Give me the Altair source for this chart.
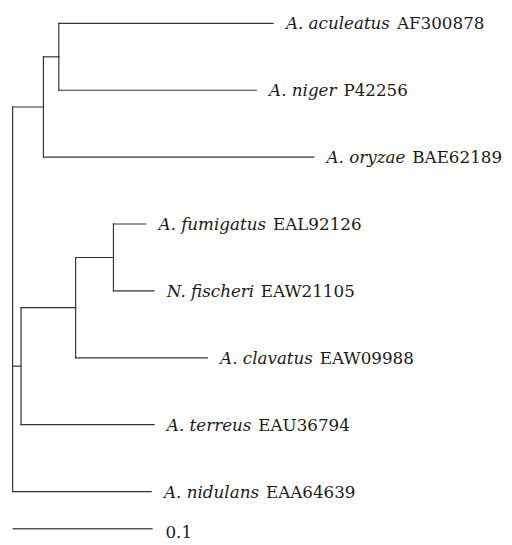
import altair as alt
import pandas as pd

# ---- data ----
leaf_species = ["A. aculeatus", "A. niger", "A. oryzae", "A. fumigatus",
                "N. fischeri", "A. clavatus", "A. terreus", "A. nidulans"]
leaf_accession = ["AF300878", "P42256", "BAE62189", "EAL92126",
                  "EAW21105", "EAW09988", "EAU36794", "EAA64639"]
# distance of each tip from the root (substitutions/site)
leaf_depth = [0.186, 0.174, 0.215, 0.095, 0.101, 0.139, 0.101, 0.099]

node_names = ["n1", "n2", "n3", "n4", "n5", "root"]
node_children = [[0, 1], ["n1", 2], [3, 4], ["n3", 5], ["n4", 6], ["n2", "n5", 7]]
node_depth = [0.033, 0.022, 0.072, 0.045, 0.006, 0.0]

scale_bar_length = 0.1
scale_bar_label = "0.1"

# ---- layout ----
W, H = 504, 537
X_DOM = [-0.0033, 0.3509]
Y_DOM = [-0.166, 7.735]
PX_PER_UNIT = W / (X_DOM[1] - X_DOM[0])
FONT = "DejaVu Serif"
FS = 17
LINE_COLOR = "#333333"
TEXT_COLOR = "#1a1a1a"
LABEL_DX = 13
GAP = 7
DY = 6.2

# approximate DejaVu Serif Italic advance widths (per em) for measuring species names
ITALIC_W = {" ": .318, ".": .318, "A": .722, "N": .771, "a": .596, "c": .560, "d": .640,
            "e": .592, "f": .370, "g": .640, "h": .644, "i": .320, "l": .320, "m": .948,
            "n": .644, "o": .602, "r": .478, "s": .513, "t": .402, "u": .644, "v": .565,
            "y": .565, "z": .527}


def text_w(s):
    return sum(ITALIC_W.get(c, .6) for c in s) * FS


# positions of every node
pos = {}
for i, d in enumerate(leaf_depth):
    pos[i] = (d, float(i))
for name, kids, d in zip(node_names, node_children, node_depth):
    ys = [pos[k][1] for k in kids]
    pos[name] = (d, (min(ys) + max(ys)) / 2)

segs = []
for name, kids in zip(node_names, node_children):
    d, _ = pos[name]
    ys = [pos[k][1] for k in kids]
    segs.append(dict(x=d, x2=d, y=min(ys), y2=max(ys)))
    for k in kids:
        kd, ky = pos[k]
        segs.append(dict(x=d, x2=kd, y=ky, y2=ky))
seg_df = pd.DataFrame(segs)

leaf_df = pd.DataFrame({
    "species": leaf_species,
    "acc": leaf_accession,
    "x": leaf_depth,
    "y": list(range(len(leaf_species))),
})
leaf_df["xacc"] = [d + (LABEL_DX + text_w(s) + GAP) / PX_PER_UNIT
                   for d, s in zip(leaf_depth, leaf_species)]

scale_df = pd.DataFrame({"x": [0.0], "x2": [scale_bar_length], "y": [7.555],
                         "label": [scale_bar_label]})

xs = alt.Scale(domain=X_DOM, nice=False, zero=False)
ys = alt.Scale(domain=Y_DOM, nice=False, zero=False, reverse=True)

branches = alt.Chart(seg_df).mark_rule(color=LINE_COLOR, strokeWidth=1.2, strokeCap="square").encode(
    x=alt.X("x:Q", scale=xs, axis=None),
    x2="x2:Q",
    y=alt.Y("y:Q", scale=ys, axis=None),
    y2="y2:Q",
)

species = alt.Chart(leaf_df).mark_text(
    align="left", baseline="alphabetic", dx=LABEL_DX, dy=DY,
    font=FONT, fontSize=FS, fontStyle="italic", color=TEXT_COLOR
).encode(
    x=alt.X("x:Q", scale=xs, axis=None),
    y=alt.Y("y:Q", scale=ys, axis=None),
    text="species:N",
)

acc = alt.Chart(leaf_df).mark_text(
    align="left", baseline="alphabetic", dy=DY,
    font=FONT, fontSize=FS, color=TEXT_COLOR
).encode(
    x=alt.X("xacc:Q", scale=xs, axis=None),
    y=alt.Y("y:Q", scale=ys, axis=None),
    text="acc:N",
)

bar = alt.Chart(scale_df).mark_rule(color="#555555", strokeWidth=1.5).encode(
    x=alt.X("x:Q", scale=xs, axis=None),
    x2="x2:Q",
    y=alt.Y("y:Q", scale=ys, axis=None),
)

bar_label = alt.Chart(scale_df).mark_text(
    align="left", baseline="alphabetic", dx=LABEL_DX, dy=9.5,
    font=FONT, fontSize=FS, color=TEXT_COLOR
).encode(
    x=alt.X("x2:Q", scale=xs, axis=None),
    y=alt.Y("y:Q", scale=ys, axis=None),
    text="label:N",
)

chart = alt.layer(branches, bar, species, acc, bar_label).properties(
    width=W, height=H, padding=0,
    autosize=alt.AutoSizeParams(type="none"),
).configure_view(stroke=None)

chart.save("out.html", embed_options={"renderer": "svg", "actions": False})
